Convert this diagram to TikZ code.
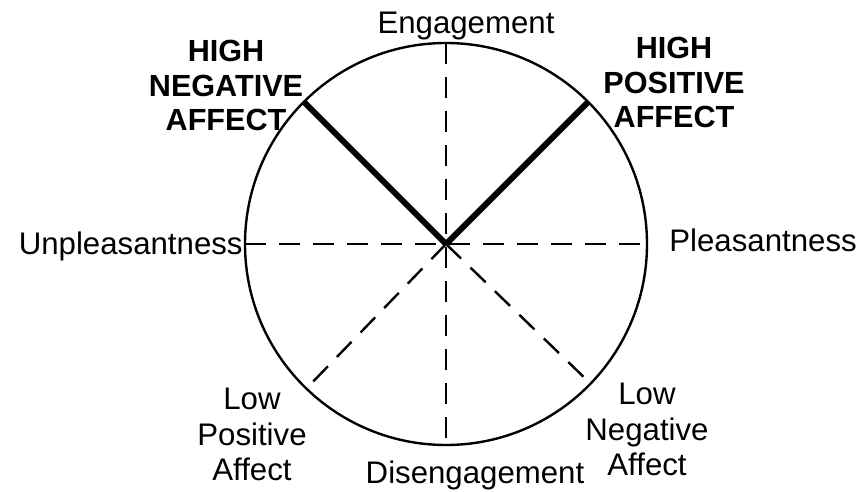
\documentclass[tikz,border=0pt]{standalone}
\usepackage{fontspec}
\setmainfont{Liberation Sans}
\begin{document}
\begin{tikzpicture}[x=0.5pt,y=-0.5pt,
  lbl/.style={inner sep=0pt,font=\fontsize{15.6}{17.2}\selectfont},
  blbl/.style={inner sep=0pt,align=center,font=\fontsize{15.3}{17.2}\selectfont\bfseries},
  slbl/.style={inner sep=0pt,align=center,font=\fontsize{15.6}{17.6}\selectfont},
  rim/.style={line width=1.2pt},
  axis/.style={line width=1.2pt,dash pattern=on 10.5pt off 6.5pt},
  pole/.style={line width=3pt}]
\path[use as bounding box,fill=white] (0,0) rectangle (867,492);
\coordinate (c) at (446,244);
\coordinate (top) at ([shift={(90:100.5pt)}]c);
\coordinate (bot) at ([shift={(-90:100.5pt)}]c);
\coordinate (lft) at ([shift={(180:100.5pt)}]c);
\coordinate (rgt) at ([shift={(0:100.5pt)}]c);
\coordinate (hn) at ([shift={(135:100.5pt)}]c);
\coordinate (hp) at ([shift={(45:100.5pt)}]c);
\coordinate (lp) at ([shift={(-134:96pt)}]c);
\coordinate (ln) at ([shift={(-44:96pt)}]c);
\draw[rim] (c) circle[radius=100.5pt];
\draw[axis] (top) -- (bot);
\draw[axis] (lft) -- (rgt);
\draw[axis] (c) -- (lp);
\draw[axis] (c) -- (ln);
\draw[pole] (c) -- (hn);
\draw[pole] (c) -- (hp);
\node[lbl,anchor=base] (eng) at (466,34) {Engagement};
\node[lbl,anchor=base] (dis) at (475,483) {Disengagement};
\node[lbl,anchor=base east] (unp) at (243,254) {Unpleasantness};
\node[lbl,anchor=base west] (ple) at (669,251) {Pleasantness};
\node[blbl,anchor=north] (hna) at (226,40) {HIGH\\NEGATIVE\\AFFECT};
\node[blbl,anchor=north] (hpa) at (674,37) {HIGH\\POSITIVE\\AFFECT};
\node[slbl,anchor=north] (lpa) at (252,388) {Low\\Positive\\Affect};
\node[slbl,anchor=north] (lna) at (647,383) {Low\\Negative\\Affect};
\end{tikzpicture}
\end{document}
